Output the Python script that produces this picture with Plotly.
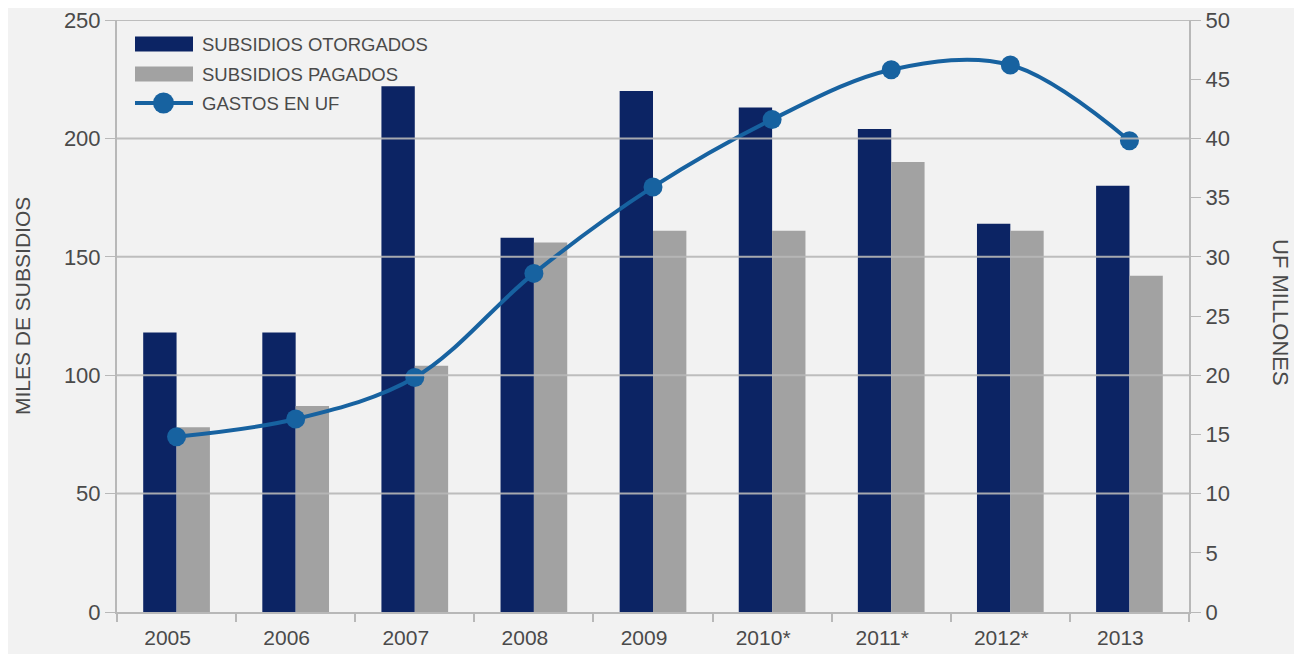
import plotly.graph_objects as go

years = ["2005", "2006", "2007", "2008", "2009", "2010*", "2011*", "2012*", "2013"]
otorgados = [118, 118, 222, 158, 220, 213, 204, 164, 180]
pagados = [78, 87, 104, 156, 161, 161, 190, 161, 142]
gastos_uf = [14.8, 16.3, 19.8, 28.6, 35.9, 41.6, 45.8, 46.2, 39.8]
left_ticks = [0, 50, 100, 150, 200, 250]
right_ticks = list(range(0, 51, 5))

DARK = "#0c2464"
GRAY = "#a2a2a2"
LINE = "#1762a0"
TXT = "#4a4a4a"
BG = "#f2f2f2"
GRID = "#b8b8b8"
FONT = "Liberation Sans"

# page offset (body margin) compensation: screen = figure + OFF
OFF = 8
L, R, T, B = 117 - OFF, 1302 - (1189 - OFF), 20 - OFF, 654 - (612 - OFF)

fig = go.Figure()
fig.add_trace(go.Bar(x=years, y=otorgados, name="SUBSIDIOS OTORGADOS",
                     marker=dict(color=DARK, line=dict(width=0)), yaxis="y"))
fig.add_trace(go.Bar(x=years, y=pagados, name="SUBSIDIOS PAGADOS",
                     marker=dict(color=GRAY, line=dict(width=0)), yaxis="y"))
fig.add_trace(go.Scatter(x=years, y=gastos_uf, name="GASTOS EN UF", yaxis="y2",
                         mode="lines+markers", line=dict(color=LINE, width=4, shape="spline", smoothing=1.0),
                         marker=dict(color=LINE, size=19)))

fig.update_layout(
    width=1302, height=654,
    margin=dict(l=L, r=R, t=T, b=B, autoexpand=False),
    paper_bgcolor=BG, plot_bgcolor=BG,
    barmode="group", bargap=0.44, bargroupgap=0,
    showlegend=False,
    font=dict(family=FONT, size=22, color=TXT),
    xaxis=dict(type="category", range=[-0.5, len(years) - 0.5], showgrid=False, showline=True,
               linecolor=GRID, linewidth=2,
               ticks="outside", tickson="boundaries", ticklen=8, tickcolor=GRID, tickwidth=1.5,
               ticklabelstandoff=6, ticklabelshift=-9, tickfont=dict(size=21, color=TXT)),
    yaxis=dict(range=[0, 250], tickvals=left_ticks, showgrid=False,
               showline=True, linecolor=GRID, linewidth=2, ticks="outside", ticklen=10,
               tickcolor=GRID, zeroline=False, ticklabeloverflow="allow",
               tickfont=dict(size=22, color=TXT)),
    yaxis2=dict(range=[0, 50], tickvals=right_ticks, overlaying="y", side="right",
                showgrid=False, showline=True, linecolor=GRID, linewidth=2, ticks="outside", ticklen=10,
                tickcolor=GRID, zeroline=False, ticklabeloverflow="allow",
                tickfont=dict(size=22, color=TXT)),
)

# gridlines drawn above the marks, as in the reference
for v in left_ticks[1:]:
    fig.add_shape(type="line", xref="x domain", yref="y", x0=0, x1=1, y0=v, y1=v,
                  line=dict(color=GRID, width=2), layer="above", opacity=0.9)

PW = 1302 - L - R
PH = 654 - T - B
def px(xs):
    return (xs - OFF - L) / PW
def py(ys):
    return (654 - B - (ys - OFF)) / PH

# axis titles
fig.add_annotation(text="MILES DE SUBSIDIOS", xref="paper", yref="paper", x=px(22), y=py(306),
                   textangle=-90, showarrow=False, font=dict(size=21, color=TXT),
                   xanchor="center", yanchor="middle")
fig.add_annotation(text="UF MILLONES", xref="paper", yref="paper", x=px(1281), y=py(312),
                   textangle=90, showarrow=False, font=dict(size=22, color=TXT),
                   xanchor="center", yanchor="middle")

# custom legend
legend_items = [("SUBSIDIOS OTORGADOS", DARK, "rect", 44),
                ("SUBSIDIOS PAGADOS", GRAY, "rect", 74),
                ("GASTOS EN UF", LINE, "line", 103)]
for label, col, kind, yc in legend_items:
    if kind == "rect":
        fig.add_shape(type="rect", xref="paper", yref="paper", x0=px(135), x1=px(193),
                      y0=py(yc + 7.5), y1=py(yc - 7.5), fillcolor=col, line=dict(width=0))
    else:
        fig.add_shape(type="line", xref="paper", yref="paper", x0=px(135), x1=px(193),
                      y0=py(yc), y1=py(yc), line=dict(color=col, width=4))
        fig.add_shape(type="circle", xref="paper", yref="paper", x0=px(153), x1=px(174),
                      y0=py(yc + 10.5), y1=py(yc - 10.5), fillcolor=col, line=dict(width=0))
    fig.add_annotation(text=label, xref="paper", yref="paper", x=px(200), y=py(yc),
                       xanchor="left", yanchor="middle", showarrow=False,
                       font=dict(size=18.5, color=TXT))

fig.write_html("out.html")
